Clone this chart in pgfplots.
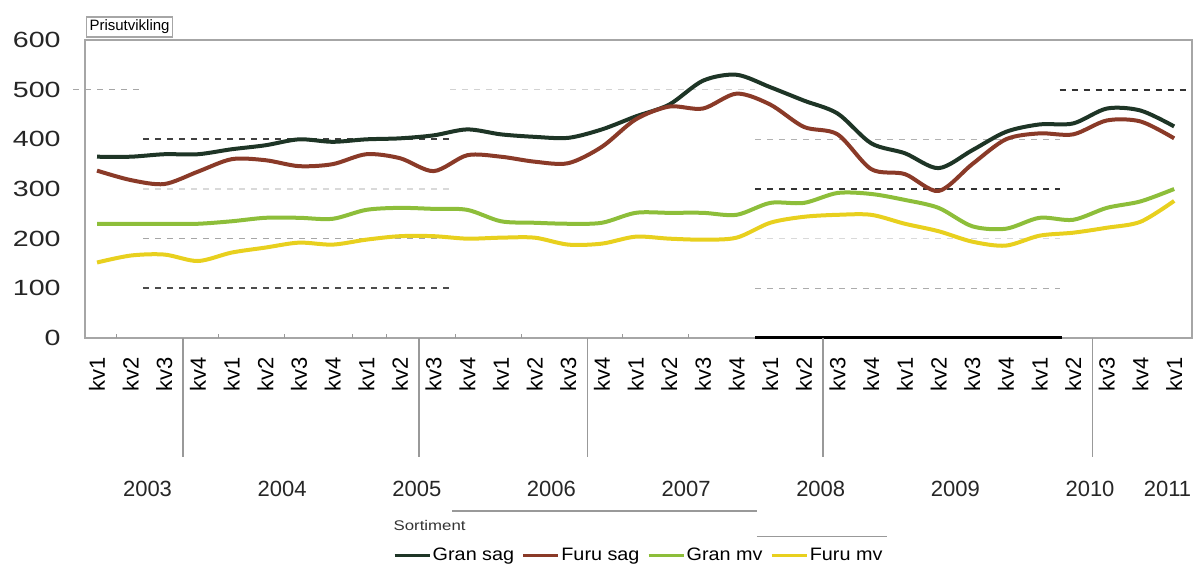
\documentclass[border=0pt]{standalone}
\usepackage{pgfplots}
\pgfplotsset{compat=1.18}
\usepackage{pgfplotstable}
\usepackage{fontspec}
\setmainfont{Liberation Sans}
\usepackage{graphicx}

\definecolor{gransag}{HTML}{1E3526}
\definecolor{furusag}{HTML}{8A3A28}
\definecolor{granmv}{HTML}{8DBE3A}
\definecolor{furumv}{HTML}{E8D01E}

\pgfplotstableread{
x gs fs gm fm
0 365 337 230 152
1 365 318 230 166
2 370 310 230 168
3 370 335 230 155
4 380 360 235 172
5 388 358 242 182
6 400 346 242 192
7 395 350 240 188
8 400 370 258 198
9 402 362 262 205
10 408 336 260 205
11 420 368 258 200
12 410 365 235 202
13 405 355 232 202
14 403 352 230 188
15 420 385 232 190
16 446 440 252 204
17 470 466 252 200
18 518 462 252 198
19 530 492 248 202
20 505 470 272 232
21 478 425 272 244
22 452 410 292 248
23 392 340 290 248
24 372 330 278 230
25 342 296 262 215
26 378 350 225 194
27 415 400 220 186
28 430 412 242 206
29 432 410 238 212
30 462 438 262 222
31 458 436 275 234
32 426 402 300 276
}\data

\begin{document}
\begin{tikzpicture}
\useasboundingbox (0,0) rectangle (600pt,282.5pt);
\begin{axis}[
  at={(42.5pt,113.5pt)}, anchor=south west,
  scale only axis, width=553.5pt, height=149pt,
  xmin=-0.357, xmax=32.53, ymin=0, ymax=600,
  clip=false,
  axis line style={draw=gray!70, line width=0.6pt},
  /pgf/number format/assume math mode=true,
  major tick length=0pt,
  tick style={draw=none},
  ytick={0,100,...,600},
  yticklabel={\scalebox{1.3}[1]{\pgfmathprintnumber{\tick}}},
  yticklabel style={font=\fontsize{11}{12}\selectfont, anchor=east, inner sep=0pt, xshift=-12pt, text=black!85},
  xtick={0,...,32},
  xticklabels={kv1,kv2,kv3,kv4,kv1,kv2,kv3,kv4,kv1,kv2,kv3,kv4,kv1,kv2,kv3,kv4,kv1,kv2,kv3,kv4,kv1,kv2,kv3,kv4,kv1,kv2,kv3,kv4,kv1,kv2,kv3,kv4,kv1},
  xticklabel style={font=\fontsize{11}{12}\selectfont, yshift=-9.5pt, rotate=90, anchor=east, inner sep=0pt},
  legend style={at={(0.278,-0.7315)}, anchor=west, draw=none, fill=none, inner sep=0pt,
    nodes={inner sep=0.8pt},
    legend columns=4, font=\fontsize{9}{10}\selectfont,
    /tikz/every even column/.append style={column sep=3pt},
    /tikz/every odd column/.append style={column sep=0pt}},
  legend image code/.code={\draw[#1, line width=1.5pt] (0pt,0pt) -- (17.5pt,0pt);},
]
% broken grid segments
\addplot[forget plot, gray!70, dashed, line width=0.8pt] coordinates {(-0.71,500) (1.37,500)};
\addplot[forget plot, black!75, dashed, line width=0.9pt] coordinates {(1.37,400) (10.49,400)};
\addplot[forget plot, gray!30, dashed, line width=0.6pt] coordinates {(1.37,300) (10.49,300)};
\addplot[forget plot, gray!70, dashed, line width=0.8pt] coordinates {(1.37,200) (10.49,200)};
\addplot[forget plot, black!70, dashed, line width=0.9pt] coordinates {(1.37,100) (10.49,100)};
\addplot[forget plot, gray!35, dashed, line width=0.6pt] coordinates {(10.49,500) (19.55,500)};
\addplot[forget plot, gray!60, dashed, line width=0.7pt] coordinates {(19.55,400) (28.6,400)};
\addplot[forget plot, black!80, dashed, line width=0.9pt] coordinates {(19.55,300) (28.6,300)};
\addplot[forget plot, gray!30, dashed, line width=0.6pt] coordinates {(19.55,200) (28.6,200)};
\addplot[forget plot, gray!65, dashed, line width=0.8pt] coordinates {(19.55,100) (28.6,100)};
\addplot[forget plot, black!80, dashed, line width=0.9pt] coordinates {(28.6,500) (32.47,500)};
% series
\addplot[gransag, line width=2pt, smooth, tension=0.5] table[x=x, y=gs] {\data};
\addlegendentry{\scalebox{1.1}[1]{Gran sag}}
\addplot[furusag, line width=2pt, smooth, tension=0.5] table[x=x, y=fs] {\data};
\addlegendentry{\scalebox{1.1}[1]{Furu sag}}
\addplot[granmv, line width=2pt, smooth, tension=0.5] table[x=x, y=gm] {\data};
\addlegendentry{\scalebox{1.1}[1]{Gran mv}}
\addplot[furumv, line width=2pt, smooth, tension=0.5] table[x=x, y=fm] {\data};
\addlegendentry{\scalebox{1.1}[1]{Furu mv}}
% axis decorations
\draw[black, line width=1.5pt] (axis cs:19.55,0) -- (axis cs:28.67,0);
\pgfplotsinvokeforeach{0.59,3.62,5.58,7.6,8.6,10.64,12.6,15.6,17.56}{
  \draw[gray!80, line width=0.6pt] (axis cs:#1,0) -- (axis cs:#1,8);
}
\pgfplotsinvokeforeach{2.55,9.57,14.57,21.57,29.58}{
  \draw[gray!80, line width=0.7pt] (axis cs:#1,0) -- (axis cs:#1,-240);
}
% year labels
\node[font=\fontsize{11}{12}\selectfont, text=black!85] at (axis cs:1.5,-304) {2003};
\node[font=\fontsize{11}{12}\selectfont, text=black!85] at (axis cs:5.5,-304) {2004};
\node[font=\fontsize{11}{12}\selectfont, text=black!85] at (axis cs:9.5,-304) {2005};
\node[font=\fontsize{11}{12}\selectfont, text=black!85] at (axis cs:13.5,-304) {2006};
\node[font=\fontsize{11}{12}\selectfont, text=black!85] at (axis cs:17.5,-304) {2007};
\node[font=\fontsize{11}{12}\selectfont, text=black!85] at (axis cs:21.5,-304) {2008};
\node[font=\fontsize{11}{12}\selectfont, text=black!85] at (axis cs:25.5,-304) {2009};
\node[font=\fontsize{11}{12}\selectfont, text=black!85] at (axis cs:29.5,-304) {2010};
\node[font=\fontsize{11}{12}\selectfont, text=black!85] at (axis cs:31.8,-304) {2011};
% stray legend-frame lines
\draw[gray!80, line width=0.7pt] (axis cs:10.55,-348) -- (axis cs:19.6,-348);
\draw[gray!80, line width=0.7pt] (axis cs:19.6,-400) -- (axis cs:23.47,-400);
\node[font=\fontsize{7}{8}\selectfont, anchor=west, inner sep=0pt, text=black!80] at (axis cs:8.8,-378) {\scalebox{1.2}[1]{Sortiment}};
% title box
\node[draw=gray!70, line width=0.6pt, font=\fontsize{7.5}{8}\selectfont, inner sep=1.5pt, minimum height=10pt, anchor=west] at (axis cs:-0.33,626) {Prisutvikling};
\end{axis}
\end{tikzpicture}
\end{document}
